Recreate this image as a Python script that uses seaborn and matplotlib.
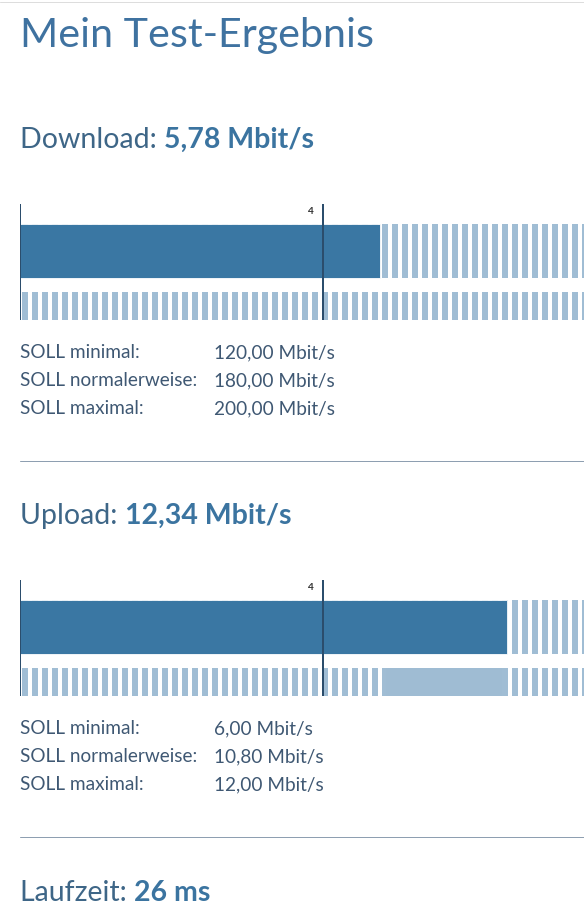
import numpy as np
import seaborn as sns
import matplotlib.pyplot as plt

# Messwerte aus dem Test
titel = "Mein Test-Ergebnis"
tests = ["Download", "Upload"]
gemessen = [5.78, 12.34]          # Mbit/s
soll_min = [120.00, 6.00]
soll_normal = [180.00, 10.80]
soll_max = [200.00, 12.00]
soll_labels = ["SOLL minimal:", "SOLL normalerweise:", "SOLL maximal:"]
einheit = "Mbit/s"
laufzeit_ms = 26
marker_wert = 4
x_max = 19.1

W, H, DPI = 584, 919, 60

DARK = "#3a77a3"
STRIPE = "#a0bdd4"
RANGE = "#9fbcd3"
NAVY = "#2b4d6c"
HEAD = "#3e6687"
BOLD = "#3b74a0"
TXT = "#3f5873"
SEP = "#8e9fb1"

sns.set_theme(style="white")
plt.rcParams["font.family"] = ["Lato", "DejaVu Sans"]
plt.rcParams["hatch.linewidth"] = 6 * 72 / DPI


def pt(px):
    return px * 72 / DPI


def fx(x):
    return x / W


def fy(y):
    return 1 - y / H


def de(v):
    return f"{v:.2f}".replace(".", ",")


fig = plt.figure(figsize=(W / DPI, H / DPI), dpi=DPI)
fig.patch.set_facecolor("white")

# obere Rahmenlinie
fig.add_artist(plt.Line2D([0, 1], [fy(2), fy(2)], color="#dddddd", lw=pt(1)))

fig.text(fx(20), fy(47), titel, fontsize=pt(41.3), color="#3f72a0", va="baseline")


def heading(y, name, wert):
    t = fig.text(fx(20), fy(y), f"{name}: ", fontsize=pt(28.5), color=HEAD, va="baseline")
    fig.canvas.draw()
    bb = t.get_window_extent()
    fig.text(bb.x1 / W, fy(y), wert, fontsize=pt(28.5), color=BOLD,
             fontweight="bold", va="baseline")


for i, name in enumerate(tests):
    off = 376 * i
    heading(148 + off, name, f"{de(gemessen[i])} {einheit}")

    ax = fig.add_axes([fx(20), fy(320 + off), 564 / W, 116 / H])
    sns.barplot(x=[gemessen[i]], y=["Messung"], orient="h", color=DARK,
                saturation=1, width=0.98, ax=ax, zorder=2)
    # gestreifter Hintergrund beider Zeilen
    ax.barh([0, 1], [x_max, x_max], height=[0.98, 0.51], left=0,
            color="white", edgecolor=STRIPE, hatch="|", linewidth=0, zorder=0.5)
    # SOLL-Bereich
    ax.barh(1, soll_max[i] - soll_min[i], left=soll_min[i], height=0.51,
            color=RANGE, linewidth=0, zorder=1)
    ax.set_xscale("function", functions=(np.log1p, np.expm1))
    ax.set_xlim(0, x_max)
    ax.set_ylim(1.2545, -0.855)
    ax.axvline(0, color=NAVY, lw=pt(2), zorder=3)
    ax.axvline(marker_wert, color=NAVY, lw=pt(2), zorder=3)
    ax.annotate(str(marker_wert), xy=(marker_wert, 1), xycoords=("data", "axes fraction"),
                xytext=(-10, -3), textcoords="offset pixels", ha="right", va="top",
                fontsize=pt(10), fontweight="bold", color="#333333")
    ax.axis("off")

    werte = [soll_min[i], soll_normal[i], soll_max[i]]
    for j, lab in enumerate(soll_labels):
        yb = 358 + off + 28 * j
        fig.text(fx(20), fy(yb), lab, fontsize=pt(19), color=TXT, va="baseline")
        fig.text(fx(214), fy(yb), f"{de(werte[j])} {einheit}", fontsize=pt(19),
                 color=TXT, va="baseline")

    fig.add_artist(plt.Line2D([fx(20), 1], [fy(460.5 + off), fy(460.5 + off)],
                              color=SEP, lw=pt(1)))

heading(901, "Laufzeit", f"{laufzeit_ms} ms")

fig.savefig("out.png", dpi=DPI)
